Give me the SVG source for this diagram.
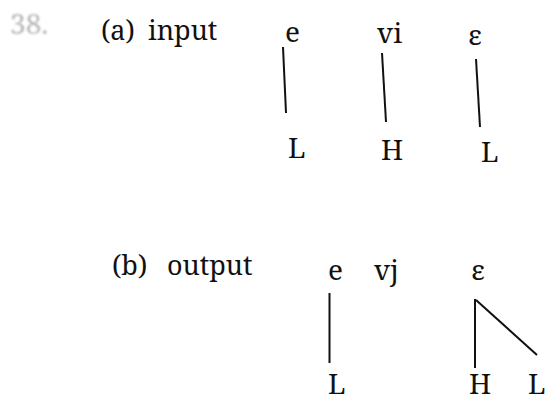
<svg xmlns="http://www.w3.org/2000/svg" width="555" height="401" viewBox="0 0 555 401">
  <style>
    text { font-family: 'Noto Serif', 'DejaVu Serif', serif; font-size: 28px; fill: #111; }
    .lbl { font-size: 27px; }
    .num { fill: #b4b4b4; }
    .assoc { stroke: #111; stroke-width: 2; stroke-linecap: butt; fill: none; }
  </style>
  <defs>
    <filter id="soft" x="-20%" y="-20%" width="140%" height="140%">
      <feGaussianBlur stdDeviation="0.9"/>
    </filter>
  </defs>
  <rect width="555" height="401" fill="#ffffff"/>

  <!-- item number -->
  <text class="num" x="10" y="34" filter="url(#soft)">38.</text>

  <!-- (a) input: segments over tones -->
  <g id="label-a"><text class="lbl" x="101" y="40">(a)<tspan x="148">input</tspan></text></g>
  <g id="a-seg1"><text x="285" y="42">e</text></g>
  <g id="a-seg2"><text x="377" y="43">vi</text></g>
  <g id="a-seg3"><text x="468" y="45">ε</text></g>
  <g id="a-tone1"><text x="288" y="158">L</text></g>
  <g id="a-tone2"><text x="381" y="160">H</text></g>
  <g id="a-tone3"><text x="481" y="162">L</text></g>

  <!-- (b) output: segments over tones -->
  <g id="label-b"><text class="lbl" x="112" y="275">(b)<tspan x="167">output</tspan></text></g>
  <g id="b-seg1"><text x="328" y="280">e</text></g>
  <g id="b-seg2"><text x="374" y="280">vj</text></g>
  <g id="b-seg3"><text x="471" y="280">ε</text></g>
  <g id="b-tone1"><text x="328" y="394">L</text></g>
  <g id="b-tone2"><text x="469" y="394">H</text></g>
  <g id="b-tone3"><text x="528" y="394">L</text></g>

  <!-- association lines -->
  <g id="connectors" class="assoc">
    <line x1="283" y1="47" x2="286" y2="113"/>
    <line x1="382" y1="53" x2="386" y2="122"/>
    <line x1="476" y1="59" x2="480" y2="127"/>
    <line x1="329.5" y1="293" x2="329.5" y2="363"/>
    <line x1="475" y1="299" x2="475" y2="368"/>
    <line x1="476" y1="300" x2="537" y2="355"/>
  </g>
</svg>
